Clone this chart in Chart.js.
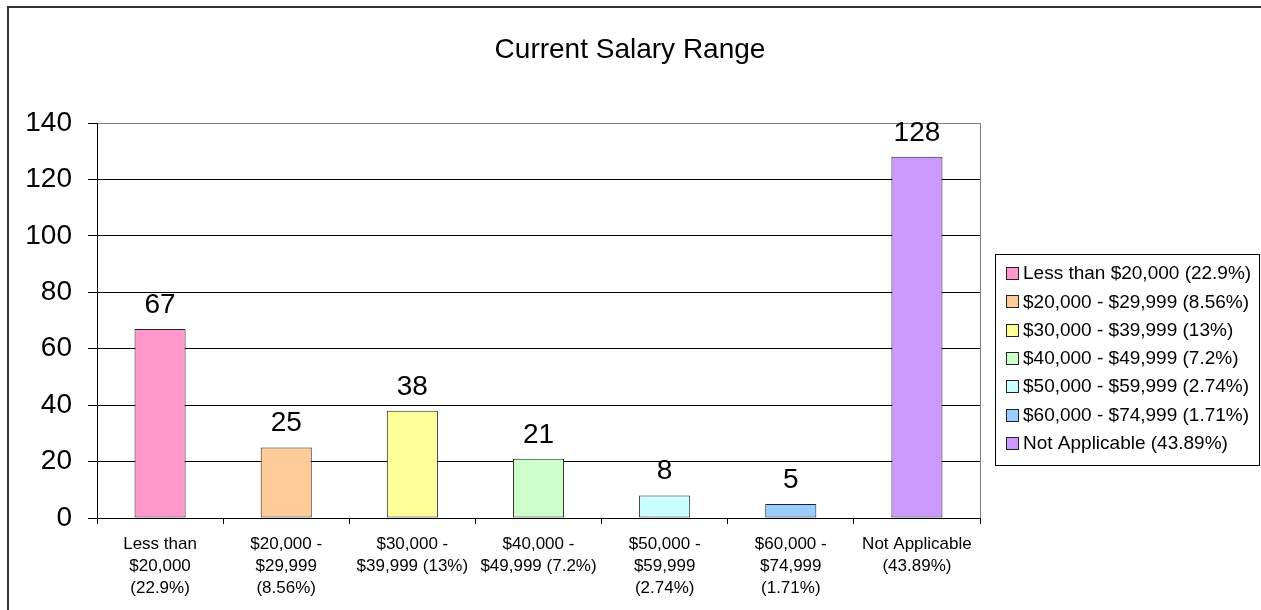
<!DOCTYPE html>
<html>
<head>
<meta charset="utf-8">
<script src="https://cdn.jsdelivr.net/npm/chart.js@4/dist/chart.umd.min.js"></script>
<style>
  html, body { margin: 0; padding: 0; background: #fff; }
  #wrap { position: absolute; left: 0; top: 0; width: 1261px; height: 610px; }
</style>
</head>
<body>
<div id="wrap"><canvas id="chart"></canvas></div>
<script>
const chartTitle = "Current Salary Range";
const categories = [
  ["Less than", "$20,000", "(22.9%)"],
  ["$20,000 -", "$29,999", "(8.56%)"],
  ["$30,000 -", "$39,999 (13%)"],
  ["$40,000 -", "$49,999 (7.2%)"],
  ["$50,000 -", "$59,999", "(2.74%)"],
  ["$60,000 -", "$74,999", "(1.71%)"],
  ["Not Applicable", "(43.89%)"],
];
const legendLabels = [
  "Less than $20,000 (22.9%)",
  "$20,000 - $29,999 (8.56%)",
  "$30,000 - $39,999 (13%)",
  "$40,000 - $49,999 (7.2%)",
  "$50,000 - $59,999 (2.74%)",
  "$60,000 - $74,999 (1.71%)",
  "Not Applicable (43.89%)",
];
const counts = [67, 25, 38, 21, 8, 5, 128];
const barColors = ["#FF99CC", "#FFCC99", "#FFFF99", "#CCFFCC", "#CCFFFF", "#99CCFF", "#CC99FF"];
const yTicks = [0, 20, 40, 60, 80, 100, 120, 140];

const FONT = "'Liberation Sans', Arial, sans-serif";
Chart.defaults.font.family = FONT;
Chart.defaults.color = "#000";

// frame, title, value labels and the boxed legend
const decorations = {
  id: "decorations",
  beforeDraw(chart) {
    const c = chart.ctx;
    c.save();
    c.fillStyle = "#fff";
    c.fillRect(0, 0, chart.width, chart.height);
    c.strokeStyle = "#333";
    c.lineWidth = 2;
    c.beginPath();
    c.moveTo(8, chart.height);
    c.lineTo(8, 7);
    c.lineTo(chart.width, 7);
    c.stroke();
    c.restore();
  },
  afterDraw(chart) {
    const c = chart.ctx;
    const area = chart.chartArea;
    c.save();
    // plot area right border (gray)
    c.strokeStyle = "#808080";
    c.lineWidth = 1;
    c.beginPath();
    c.moveTo(area.right + 0.5, area.top);
    c.lineTo(area.right + 0.5, area.bottom);
    c.stroke();

    // title
    c.fillStyle = "#000";
    c.font = "28px " + FONT;
    c.textAlign = "center";
    c.textBaseline = "alphabetic";
    c.fillText(chartTitle, 630, 58);

    // value labels
    const meta = chart.getDatasetMeta(0);
    c.font = "28px " + FONT;
    meta.data.forEach((bar, i) => {
      c.fillText(String(counts[i]), bar.x, bar.y - 16);
    });

    // legend
    const lx = 995, ly = 254, lw = 264, lh = 211;
    c.strokeStyle = "#000";
    c.lineWidth = 1;
    c.strokeRect(lx + 0.5, ly + 0.5, lw, lh);
    c.font = "19px " + FONT;
    c.textAlign = "left";
    c.textBaseline = "middle";
    legendLabels.forEach((txt, i) => {
      const cy = 273 + i * 28.3;
      c.fillStyle = barColors[i];
      c.fillRect(1006, Math.round(cy) - 6, 12, 12);
      c.strokeStyle = "#222";
      c.strokeRect(1006.5, Math.round(cy) - 5.5, 12, 12);
      c.fillStyle = "#000";
      c.fillText(txt, 1023, cy + 1);
    });
    c.restore();
  },
};

const ctx = document.getElementById("chart").getContext("2d");
const chart = new Chart(ctx, {
  type: "bar",
  data: {
    labels: categories,
    datasets: [
      {
        data: counts,
        backgroundColor: barColors,
        borderColor: "#222",
        borderWidth: 1,
        borderSkipped: false,
        barPercentage: 0.405,
        categoryPercentage: 1,
      },
    ],
  },
  options: {
    responsive: true,
    maintainAspectRatio: false,
    animation: false,
    layout: { padding: { top: 123, right: 281, bottom: 0, left: 0 } },
    plugins: {
      legend: { display: false },
      title: { display: false },
      tooltip: { enabled: false },
    },
    scales: {
      x: {
        afterFit: (scale) => { scale.height = 92; },
        grid: {
          offset: true,
          drawOnChartArea: false,
          tickLength: 6,
          color: "#000",
        },
        border: { color: "#000", width: 1 },
        ticks: {
          font: { size: 17, lineHeight: 1.3 },
          padding: 9,
          maxRotation: 0,
          autoSkip: false,
        },
      },
      y: {
        min: 0,
        max: 140,
        afterFit: (scale) => { scale.width = 97; },
        afterBuildTicks: (scale) => {
          scale.ticks = yTicks.map((v) => ({ value: v }));
        },
        grid: {
          color: (c) => (c.tick && c.tick.value === 140 ? "#808080" : "#000"),
          tickColor: "#000",
          tickLength: 9,
        },
        border: { color: "#000", width: 1 },
        ticks: {
          font: { size: 28 },
          padding: 16,
        },
      },
    },
  },
  plugins: [decorations],
});
</script>
</body>
</html>
